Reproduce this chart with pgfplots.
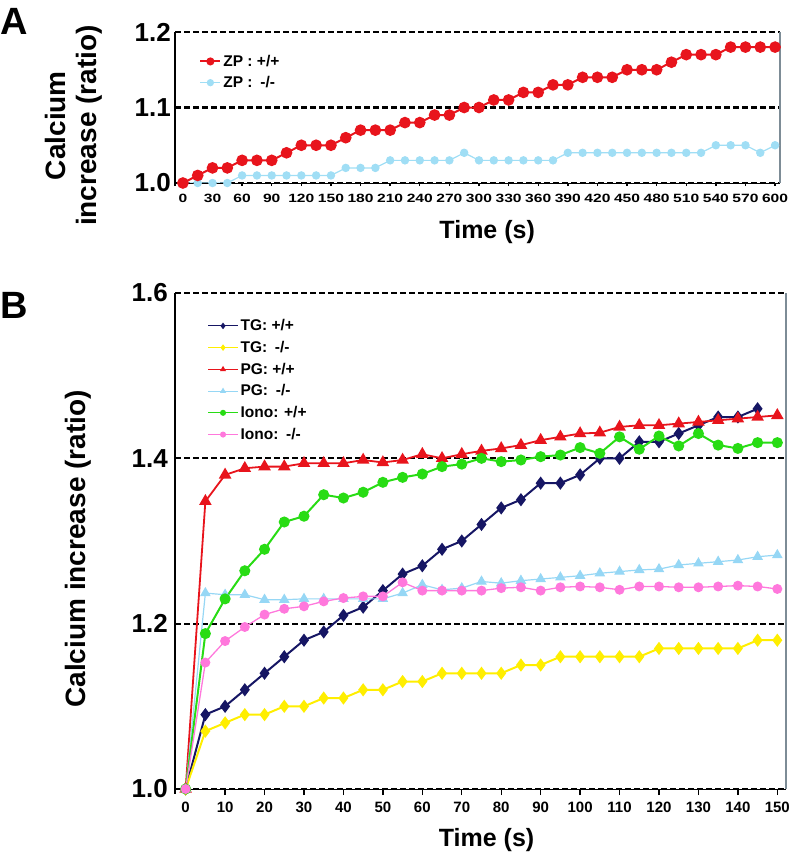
\documentclass[border=0pt]{standalone}
\usepackage{fontspec}
\setmainfont{Liberation Sans}
\newfontfamily\widesf[FakeStretch=1.3]{Liberation Sans}
\usepackage{pgfplots}
\pgfplotsset{compat=1.18}

\definecolor{zpred}{RGB}{232,20,28}
\definecolor{zpcyan}{RGB}{160,222,245}
\definecolor{tgnavy}{RGB}{22,22,100}
\definecolor{tgyellow}{RGB}{255,238,0}
\definecolor{pgcyan}{RGB}{150,215,245}
\definecolor{ionogreen}{RGB}{40,220,20}
\definecolor{ionopink}{RGB}{255,120,220}
\definecolor{spinegray}{RGB}{125,140,150}

\tikzset{dashgrid/.style={draw=black, line width=2.3pt, dash pattern=on 5.5pt off 3.5pt}}

\pgfplotsset{
  calcium/.style={
    scale only axis,
    anchor=south west,
    axis line style={draw=none},
    ymajorgrids=true,
    major grid style={dashgrid},
    tick align=outside,
    xtick pos=left, ytick pos=left,
    major tick length=6pt,
    xtick style={black, line width=1.4pt},
    ytick style={draw=none},
    /pgf/number format/assume math mode=true,
    yticklabel style={/pgf/number format/fixed, /pgf/number format/fixed zerofill, /pgf/number format/precision=1},
    clip=false,
    legend cell align=left,
    legend style={draw=none, fill=none, anchor=north west},
  },
}

\begin{document}
\begin{tikzpicture}
\path[use as bounding box] (0pt,0pt) rectangle (794pt,-853pt);

\node[font=\fontsize{38}{40}\selectfont\bfseries, anchor=north west, inner sep=0pt] at (0pt,-8pt) {A};
\node[font=\fontsize{38}{40}\selectfont\bfseries, anchor=north west, inner sep=0pt] at (0pt,-292pt) {B};

% panel A
\begin{axis}[
  calcium,
  at={(175pt,-183pt)},
  width=605pt, height=151pt,
  xmin=-8, xmax=605,
  ymin=1.0, ymax=1.2,
  xtick={0,30,...,600},
  ytick={1.0,1.1,1.2},
  major tick length=3pt,
  xticklabel style={font=\widesf\fontsize{12}{13}\selectfont\bfseries, yshift=-5pt},
  yticklabel style={font=\fontsize{26}{28}\selectfont\bfseries, inner xsep=1pt},
  xlabel={Time (s)},
  xlabel style={font=\fontsize{25}{28}\selectfont\bfseries, at={(axis description cs:0.516,-0.325)}, anchor=center},
  ylabel={Calcium\\increase (ratio)},
  ylabel style={font=\fontsize{28}{31}\selectfont\bfseries, align=center, at={(axis description cs:-0.167,0.38)}, anchor=center},
  legend style={at={(axis description cs:0.035,0.875)}, font=\fontsize{15.5}{17}\selectfont\bfseries, row sep=4.5pt},
  legend image code/.code={\draw[mark repeat=2,mark phase=2,mark size=3pt] plot coordinates {(0pt,0pt) (10pt,0pt) (20pt,0pt)};},
]
\addlegendimage{color=zpred, line width=2pt, mark=*}
\addlegendentry{ZP : +/+}
\addlegendimage{color=zpcyan, line width=1.2pt, mark=*}
\addlegendentry{ZP :\enspace-/-}
\addplot[forget plot, color=zpcyan, line width=1.2pt, mark=*, mark size=3.6pt] coordinates {
  (0,1.00) (15,1.00) (30,1.00) (45,1.00) (60,1.01) (75,1.01) (90,1.01)
  (105,1.01) (120,1.01) (135,1.01) (150,1.01) (165,1.02) (180,1.02) (195,1.02)
  (210,1.03) (225,1.03) (240,1.03) (255,1.03) (270,1.03) (285,1.04) (300,1.03)
  (315,1.03) (330,1.03) (345,1.03) (360,1.03) (375,1.03) (390,1.04) (405,1.04)
  (420,1.04) (435,1.04) (450,1.04) (465,1.04) (480,1.04) (495,1.04) (510,1.04)
  (525,1.04) (540,1.05) (555,1.05) (570,1.05) (585,1.04) (600,1.05)
};
\addplot[forget plot, color=zpred, line width=2pt, mark=*, mark size=4.8pt] coordinates {
  (0,1.00) (15,1.01) (30,1.02) (45,1.02) (60,1.03) (75,1.03) (90,1.03)
  (105,1.04) (120,1.05) (135,1.05) (150,1.05) (165,1.06) (180,1.07) (195,1.07)
  (210,1.07) (225,1.08) (240,1.08) (255,1.09) (270,1.09) (285,1.10) (300,1.10)
  (315,1.11) (330,1.11) (345,1.12) (360,1.12) (375,1.13) (390,1.13) (405,1.14)
  (420,1.14) (435,1.14) (450,1.15) (465,1.15) (480,1.15) (495,1.16) (510,1.17)
  (525,1.17) (540,1.17) (555,1.18) (570,1.18) (585,1.18) (600,1.18)
};
\draw[black, line width=2.3pt, dash pattern=on 5.5pt off 3.5pt] (rel axis cs:0,1) -- (rel axis cs:1,1);
\draw[black, line width=1pt] (rel axis cs:0,0) -- (rel axis cs:1,0);
\draw[black, line width=1.8pt] (rel axis cs:0,-0.02) -- (rel axis cs:0,1);
\draw[spinegray, line width=1.4pt] (rel axis cs:1,0) -- (rel axis cs:1,1);
\end{axis}

% panel B
\begin{axis}[
  calcium,
  at={(175pt,-789pt)},
  width=611pt, height=496pt,
  xmin=-2.7, xmax=152.2,
  ymin=1.0, ymax=1.6,
  xtick={0,10,...,150},
  ytick={1.0,1.2,1.4,1.6},
  xticklabel style={font=\fontsize{15}{17}\selectfont\bfseries, yshift=-3pt},
  yticklabel style={font=\fontsize{26}{28}\selectfont\bfseries, inner xsep=1pt},
  xlabel={Time (s)},
  xlabel style={font=\fontsize{25}{28}\selectfont\bfseries, at={(axis description cs:0.51,-0.103)}, anchor=center},
  ylabel={Calcium increase (ratio)},
  ylabel style={font=\fontsize{28}{31}\selectfont\bfseries, at={(axis description cs:-0.159,0.484)}, anchor=center},
  legend style={at={(axis description cs:0.048,0.955)}, font=\fontsize{15.5}{17}\selectfont\bfseries, row sep=5pt},
  legend image code/.code={\draw[mark repeat=2,mark phase=2,mark size=2.5pt,line width=1pt] plot coordinates {(0pt,0pt) (15pt,0pt) (30pt,0pt)};},
]
\addplot[color=tgnavy, line width=2pt, mark=diamond*, mark size=5pt] coordinates {
  (0,1.00) (5,1.09) (10,1.10) (15,1.12) (20,1.14) (25,1.16) (30,1.18) (35,1.19)
  (40,1.21) (45,1.22) (50,1.24) (55,1.26) (60,1.27) (65,1.29) (70,1.30) (75,1.32)
  (80,1.34) (85,1.35) (90,1.37) (95,1.37) (100,1.38) (105,1.40) (110,1.40)
  (115,1.42) (120,1.42) (125,1.43) (130,1.44) (135,1.45) (140,1.45) (145,1.46)
};
\addlegendentry{TG: +/+}
\addplot[color=tgyellow, line width=2pt, mark=diamond*, mark size=5pt] coordinates {
  (0,1.00) (5,1.07) (10,1.08) (15,1.09) (20,1.09) (25,1.10) (30,1.10) (35,1.11)
  (40,1.11) (45,1.12) (50,1.12) (55,1.13) (60,1.13) (65,1.14) (70,1.14) (75,1.14)
  (80,1.14) (85,1.15) (90,1.15) (95,1.16) (100,1.16) (105,1.16) (110,1.16)
  (115,1.16) (120,1.17) (125,1.17) (130,1.17) (135,1.17) (140,1.17) (145,1.18) (150,1.18)
};
\addlegendentry{TG:\enspace-/-}
\addplot[color=zpred, line width=1.8pt, mark=triangle*, mark size=5.5pt] coordinates {
  (0,1.00) (5,1.348) (10,1.38) (15,1.388) (20,1.39) (25,1.39) (30,1.394) (35,1.394)
  (40,1.394) (45,1.398) (50,1.395) (55,1.398) (60,1.405) (65,1.40) (70,1.405)
  (75,1.409) (80,1.412) (85,1.416) (90,1.422) (95,1.426) (100,1.43) (105,1.431)
  (110,1.438) (115,1.44) (120,1.44) (125,1.442) (130,1.444) (135,1.446)
  (140,1.448) (145,1.45) (150,1.452)
};
\addlegendentry{PG: +/+}
\addplot[color=pgcyan, line width=1.2pt, mark=triangle*, mark size=5pt] coordinates {
  (0,1.00) (5,1.237) (10,1.235) (15,1.235) (20,1.229) (25,1.229) (30,1.23)
  (35,1.23) (40,1.23) (45,1.23) (50,1.23) (55,1.237) (60,1.247) (65,1.241)
  (70,1.243) (75,1.251) (80,1.249) (85,1.252) (90,1.254) (95,1.256) (100,1.258)
  (105,1.261) (110,1.263) (115,1.265) (120,1.266) (125,1.271) (130,1.273)
  (135,1.275) (140,1.277) (145,1.281) (150,1.283)
};
\addlegendentry{PG:\enspace-/-}
\addplot[color=ionogreen, line width=2pt, mark=*, mark size=4.5pt] coordinates {
  (0,1.00) (5,1.188) (10,1.23) (15,1.264) (20,1.29) (25,1.323) (30,1.33)
  (35,1.356) (40,1.352) (45,1.359) (50,1.371) (55,1.377) (60,1.381) (65,1.39)
  (70,1.393) (75,1.40) (80,1.396) (85,1.398) (90,1.402) (95,1.404) (100,1.413)
  (105,1.406) (110,1.426) (115,1.411) (120,1.427) (125,1.415) (130,1.43)
  (135,1.416) (140,1.412) (145,1.419) (150,1.419)
};
\addlegendentry{Iono: +/+}
\addplot[color=ionopink, line width=1.3pt, mark=*, mark size=4.3pt] coordinates {
  (0,1.00) (5,1.153) (10,1.179) (15,1.196) (20,1.211) (25,1.218) (30,1.221)
  (35,1.227) (40,1.231) (45,1.233) (50,1.233) (55,1.25) (60,1.24) (65,1.24)
  (70,1.24) (75,1.24) (80,1.243) (85,1.244) (90,1.24) (95,1.244) (100,1.245)
  (105,1.244) (110,1.241) (115,1.245) (120,1.245) (125,1.244) (130,1.244)
  (135,1.245) (140,1.246) (145,1.245) (150,1.242)
};
\addlegendentry{Iono:\enspace-/-}
\draw[black, line width=2.3pt, dash pattern=on 5.5pt off 3.5pt] (rel axis cs:0,1) -- (rel axis cs:1,1);
\draw[black, line width=1pt] (rel axis cs:0,0) -- (rel axis cs:1,0);
\draw[black, line width=1.8pt] (rel axis cs:0,-0.01) -- (rel axis cs:0,1);
\draw[spinegray, line width=1.4pt] (rel axis cs:1,0) -- (rel axis cs:1,1);
\end{axis}
\end{tikzpicture}
\end{document}
